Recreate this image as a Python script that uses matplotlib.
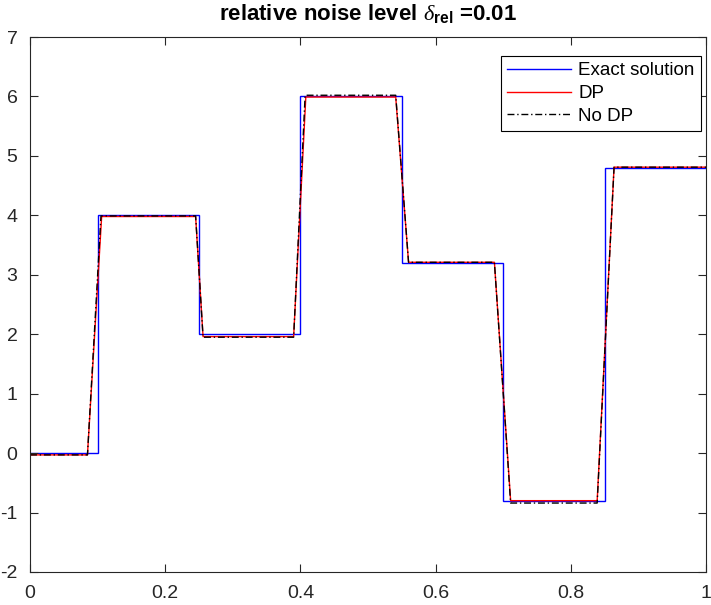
import matplotlib
matplotlib.use('Agg')
from matplotlib import pyplot as plt

# Exact piecewise-constant solution: jump locations and levels
exact_edges = [0.0, 0.1, 0.25, 0.4, 0.55, 0.7, 0.85, 1.0]
exact_levels = [0.0, 4.0, 2.0, 6.0, 3.2, -0.8, 4.8]

# Reconstruction with DP (nodes)
dp_x = [0.0, 0.085, 0.106, 0.245, 0.256, 0.390, 0.408, 0.541, 0.560,
        0.687, 0.711, 0.839, 0.864, 1.0]
dp_y = [-0.03, -0.03, 3.98, 3.98, 1.96, 1.96, 5.99, 5.99, 3.21,
        3.21, -0.80, -0.80, 4.81, 4.81]

# Reconstruction without DP
nodp_x = [0.0, 0.085, 0.105, 0.245, 0.256, 0.390, 0.407, 0.541, 0.560,
          0.687, 0.711, 0.839, 0.864, 1.0]
nodp_y = [-0.03, -0.03, 3.99, 3.99, 1.95, 1.95, 6.02, 6.02, 3.21,
          3.21, -0.84, -0.84, 4.81, 4.81]

plt.rcParams['font.family'] = ['Liberation Sans', 'DejaVu Sans']
plt.rcParams['axes.unicode_minus'] = False
plt.rcParams['mathtext.fontset'] = 'custom'
plt.rcParams['mathtext.it'] = 'Liberation Serif:italic'
plt.rcParams['mathtext.bf'] = 'Liberation Sans:bold'
plt.rcParams['mathtext.rm'] = 'Liberation Sans'

fig = plt.figure(figsize=(7.11, 6.05), dpi=100)
ax = fig.add_axes([30 / 711, 1 - 572 / 605, 676 / 711, 535 / 605])

# step plot for exact solution
ax.stairs(exact_levels, exact_edges, color='#0000ff', lw=1.0,
          baseline=None, label='Exact solution')
ax.plot(dp_x, dp_y, color='#ff0000', lw=1.0, label='DP')
ax.plot(nodp_x, nodp_y, color='black', lw=1.0, ls='-.',
        dashes=(5, 2, 1, 2), label='No DP')

ax.set_xlim(0, 1)
ax.set_ylim(-2, 7)
ax.set_xticks([0, 0.2, 0.4, 0.6, 0.8, 1])
ax.set_xticklabels(['0', '0.2', '0.4', '0.6', '0.8', '1'])
ax.set_yticks(range(-2, 8))

ax.tick_params(direction='in', top=True, right=True, length=6,
               width=0.8, colors='#262626', labelsize=14)
ax.tick_params(axis='x', pad=9)
ax.tick_params(axis='y', pad=9)
for sp in ax.spines.values():
    sp.set_color('#262626')
    sp.set_linewidth(0.8)

ax.set_title(r'relative noise level $\mathit{\delta}_{\mathbf{rel}}$ =0.01',
             fontsize=16, fontweight='bold', pad=12)

leg = ax.legend(loc='upper right', bbox_to_anchor=(0.993, 0.965),
                fontsize=13.5, frameon=True, fancybox=False,
                edgecolor='black', framealpha=1, handlelength=3.4,
                borderpad=0.35, labelspacing=0.3, handletextpad=0.4,
                borderaxespad=0.0)
leg.get_frame().set_linewidth(0.8)

fig.savefig('out.png', dpi=100)
